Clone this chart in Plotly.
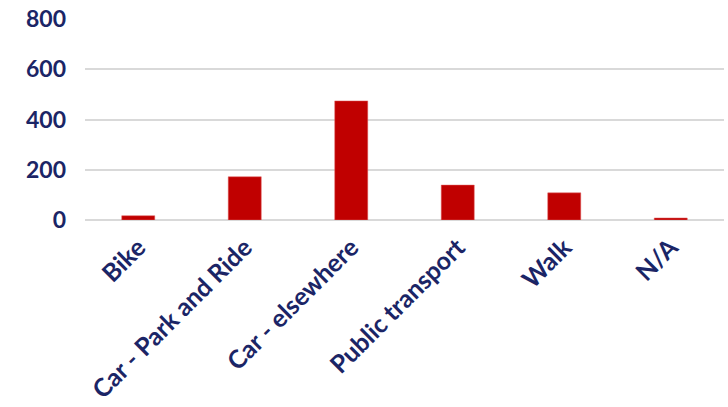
import plotly.graph_objects as go

categories = ["Bike", "Car - Park and Ride", "Car - elsewhere", "Public transport", "Walk", "N/A"]
values = [17, 172, 474, 139, 108, 8]
y_ticks = [0, 200, 400, 600, 800]

navy = "#1b2566"

fig = go.Figure(go.Bar(
    x=categories, y=values,
    marker=dict(color="#c00000", line=dict(color="#e06060", width=0.5)),
))
fig.update_layout(
    width=728, height=407,
    margin=dict(l=85, r=4, t=19, b=186.5),
    plot_bgcolor="white", paper_bgcolor="white",
    bargap=0.69,
    showlegend=False,
    font=dict(family="Lato", color=navy),
)
fig.update_xaxes(
    tickangle=-45, tickfont=dict(size=25, family="Lato", color=navy, weight="bold"),
    showgrid=False, showline=False, ticks="", ticklabelstandoff=7,
)
fig.update_yaxes(
    range=[0, 800], tickvals=y_ticks,
    tickfont=dict(size=23, family="Lato", color=navy, weight="bold"),
    showgrid=True, gridcolor="#d9d9d9", gridwidth=1.5,
    zeroline=True, zerolinecolor="#d9d9d9", zerolinewidth=2,
    ticks="", ticklabelstandoff=18,
)
fig.write_html("out.html")
